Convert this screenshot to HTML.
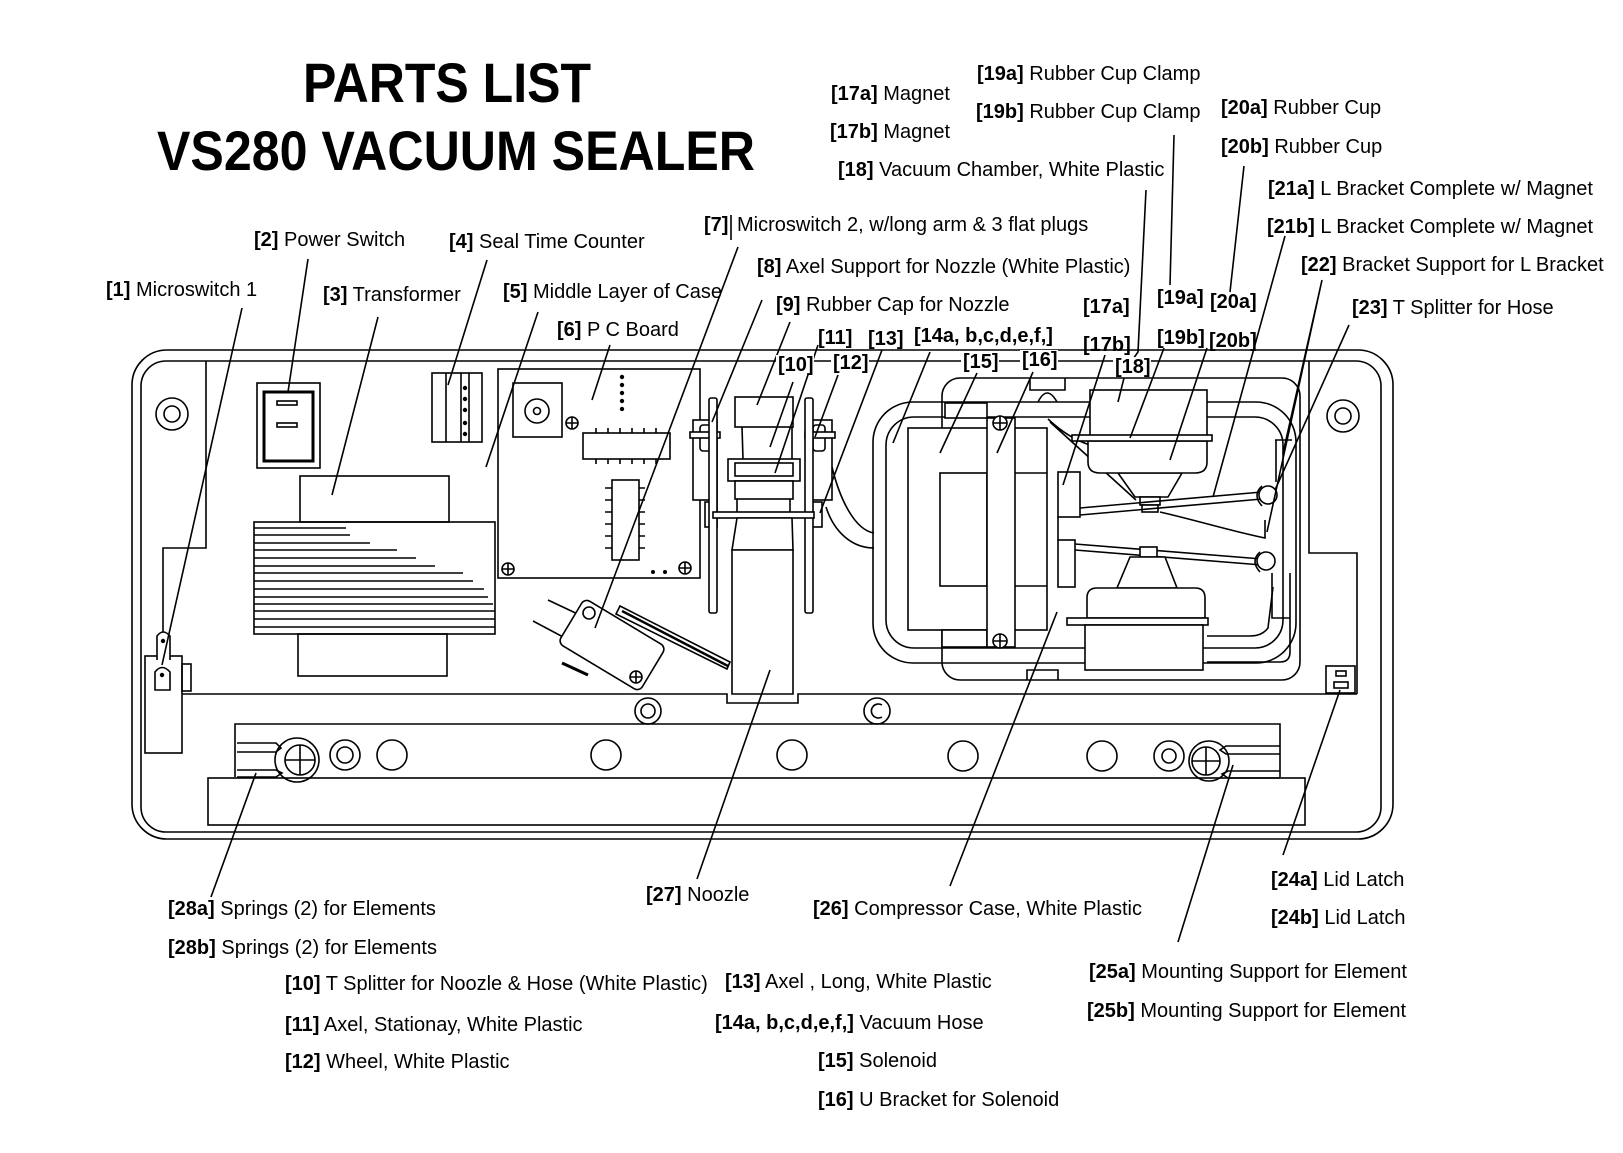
<!DOCTYPE html>
<html><head><meta charset="utf-8"><style>
html,body{margin:0;padding:0;background:#fff;}
svg{display:block;}
text{font-family:"Liberation Sans",Arial,sans-serif;font-size:20px;fill:#000;}
.b{font-weight:bold;}
.t{font-weight:bold;font-size:56px;}
.l{fill:none;stroke:#000;stroke-width:1.6;}
.w{fill:#fff;stroke:#000;stroke-width:1.6;}
.k{fill:#000;}
</style></head><body>
<svg width="1623" height="1153" viewBox="0 0 1623 1153" xmlns="http://www.w3.org/2000/svg">
<rect width="1623" height="1153" fill="#fff"/>

<!-- Titles -->
<text class="t" x="303" y="102" textLength="288" lengthAdjust="spacingAndGlyphs">PARTS LIST</text>
<text class="t" x="157" y="170" textLength="598" lengthAdjust="spacingAndGlyphs">VS280 VACUUM SEALER</text>

<!-- Case outlines -->
<rect class="l" x="132" y="350" width="1261" height="489" rx="35"/>
<rect class="l" x="141" y="361" width="1240" height="471" rx="25"/>

<!-- left panel -->
<path class="l" d="M206,361 V548 H163 V656"/>
<!-- Microswitch 1 -->
<rect class="w" x="145" y="656" width="37" height="97"/>
<rect class="l" x="182" y="664" width="9" height="27"/>
<path class="w" d="M157,660 V636 Q163,628 170,636 V660"/>
<circle class="k" cx="163" cy="641" r="2.2"/>
<path class="w" d="M155,690 V672 Q162,663 170,672 V690 Z"/>
<circle class="k" cx="162" cy="675" r="2.2"/>

<!-- lower strip line with nozzle notch -->
<path class="l" d="M182,694 H727 V703 H798 V694 H1357"/>
<path class="l" d="M1309,361 V553 H1357 V694"/>
<!-- bar frame -->
<path class="l" d="M235,777 V724 H1280 V777"/>
<rect class="l" x="208" y="778" width="1097" height="47"/>

<!-- springs -->
<path class="l" d="M237,743 H276 L281,748 L276,752 H237"/>
<path class="l" d="M237,770 H276 L282,773 L276,777 H237"/>
<path class="l" d="M1280,746 H1226 L1220,750 L1226,754 H1280"/>
<path class="l" d="M1280,771 H1228 L1222,774 L1228,778 H1280"/>

<!-- bar circles -->
<circle class="l" cx="297" cy="760" r="22"/>
<circle class="w" cx="300" cy="760" r="15"/>
<path class="l" d="M285,760 H315 M300,745 V775"/>
<circle class="l" cx="345" cy="755" r="15"/><circle class="l" cx="345" cy="755" r="8"/>
<circle class="l" cx="392" cy="755" r="15"/>
<circle class="l" cx="606" cy="755" r="15"/>
<circle class="l" cx="792" cy="755" r="15"/>
<circle class="l" cx="963" cy="756" r="15"/>
<circle class="l" cx="1102" cy="756" r="15"/>
<circle class="l" cx="1169" cy="756" r="15"/><circle class="l" cx="1169" cy="756" r="7"/>
<circle class="l" cx="1209" cy="761" r="20"/>
<circle class="w" cx="1206" cy="761" r="14"/>
<path class="l" d="M1192,761 H1220 M1206,747 V775"/>

<!-- strip circles -->
<circle class="l" cx="648" cy="711" r="13"/><circle class="l" cx="648" cy="711" r="7"/>
<circle class="l" cx="877" cy="711" r="13"/>
<path class="l" d="M882,705 A7,7 0 1 0 882,717"/>

<!-- screws in corners -->
<circle class="l" cx="172" cy="414" r="16"/><circle class="l" cx="172" cy="414" r="8"/>
<circle class="l" cx="1343" cy="416" r="16"/><circle class="l" cx="1343" cy="416" r="8"/>

<!-- Lid latch -->
<rect class="l" x="1326" y="666" width="29" height="27"/>
<rect class="l" x="1336" y="671" width="10" height="5"/>
<rect class="l" x="1334" y="682" width="14" height="6"/>

<!-- Power switch -->
<rect class="l" x="257" y="383" width="63" height="85"/>
<rect x="264" y="392" width="49" height="69" fill="none" stroke="#000" stroke-width="3"/>
<rect class="l" x="277" y="401" width="20" height="4"/>
<rect class="l" x="277" y="423" width="20" height="4"/>

<!-- Transformer -->
<rect class="l" x="300" y="476" width="149" height="46"/>
<rect class="l" x="254" y="522" width="241" height="112"/>
<rect class="l" x="298" y="634" width="149" height="42"/>
<path class="l" d="M254,528 H346 M254,535 H350 M254,543 H370 M254,550 H397 M254,558 H416 M254,566 H435 M254,573 H463 M254,581 H473 M254,589 H484 M254,597 H488 M254,604 H493 M254,611 H495 M254,619 H495 M254,627 H495"/>

<!-- Seal time counter -->
<rect class="l" x="432" y="373" width="50" height="69"/>
<path class="l" d="M446,373 V442 M461,373 V442 M469,373 V442"/>
<circle class="k" cx="465" cy="388" r="2.2"/><circle class="k" cx="465" cy="399" r="2.2"/><circle class="k" cx="465" cy="410" r="2.2"/><circle class="k" cx="465" cy="423" r="2.2"/><circle class="k" cx="465" cy="434" r="2.2"/>

<!-- PC board -->
<rect class="l" x="498" y="369" width="202" height="209"/>
<rect class="l" x="513" y="383" width="49" height="54"/>
<circle class="l" cx="537" cy="411" r="12"/><circle class="l" cx="537" cy="411" r="3.5"/>
<circle class="l" cx="572" cy="423" r="6"/><path class="l" d="M566,423 H578 M572,417 V429"/>
<circle class="l" cx="508" cy="569" r="6"/><path class="l" d="M502,569 H514 M508,563 V575"/>
<circle class="l" cx="685" cy="568" r="6"/><path class="l" d="M679,568 H691 M685,562 V574"/>
<circle class="k" cx="653" cy="572" r="2"/><circle class="k" cx="665" cy="572" r="2"/>
<circle class="k" cx="622" cy="377" r="2.2"/><circle class="k" cx="622" cy="385" r="2.2"/><circle class="k" cx="622" cy="393" r="2.2"/><circle class="k" cx="622" cy="401" r="2.2"/><circle class="k" cx="622" cy="409" r="2.2"/>
<rect class="l" x="583" y="433" width="87" height="26"/>
<path class="l" d="M596,428 V433 M608,428 V433 M620,428 V433 M632,428 V433 M644,428 V433 M656,428 V433 M596,459 V464 M608,459 V464 M620,459 V464 M632,459 V464 M644,459 V464 M656,459 V464"/>
<rect class="l" x="612" y="480" width="27" height="80"/>
<path class="l" d="M605,488 H612 M605,500 H612 M605,512 H612 M605,524 H612 M605,536 H612 M605,548 H612 M639,488 H645 M639,500 H645 M639,512 H645 M639,524 H645 M639,536 H645 M639,548 H645"/>

<!-- Microswitch 2 -->
<path class="l" d="M548,600 L584,617 M533,621 L565,638"/>
<rect class="w" x="564.5" y="619" width="95" height="52" rx="6" transform="rotate(31 612 645)"/>
<path d="M620,606 L730,662 L727,669 L616,614 Z" fill="#fff" stroke="#000" stroke-width="1.6"/>
<line x1="622" y1="611" x2="728" y2="666" stroke="#000" stroke-width="2.5"/>
<line x1="562" y1="663" x2="588" y2="675" stroke="#000" stroke-width="3"/>
<circle class="l" cx="589" cy="613" r="6"/>
<circle class="l" cx="636" cy="677" r="6"/><path class="l" d="M630,677 H642 M636,671 V683"/>

<!-- Nozzle assembly -->
<rect class="w" x="693" y="420" width="24" height="80"/>
<rect class="w" x="808" y="420" width="24" height="80"/>
<rect class="w" x="700" y="425" width="12" height="26" rx="3"/>
<rect class="w" x="813" y="425" width="12" height="26" rx="3"/>
<rect class="w" x="690" y="432" width="30" height="6"/>
<rect class="w" x="805" y="432" width="30" height="6"/>
<rect class="w" x="705" y="502" width="12" height="25"/>
<rect class="w" x="808" y="502" width="14" height="25"/>
<rect class="w" x="709" y="398" width="8" height="215" rx="2"/>
<rect class="w" x="805" y="398" width="8" height="215" rx="2"/>
<rect class="w" x="735" y="397" width="58" height="30"/>
<path class="l" d="M742,427 L743,459 M792,427 L792,459"/>
<rect class="w" x="728" y="459" width="72" height="22"/>
<rect class="w" x="735" y="463" width="58" height="13"/>
<rect class="w" x="735" y="481" width="58" height="18"/>
<path class="l" d="M737,499 V512 M790,499 V512"/>
<rect class="w" x="713" y="512" width="101" height="6"/>
<path class="w" d="M737,518 L732,550 H793 L792,518 Z"/>
<path class="w" d="M732,550 V694 H793 V550 Z"/>

<!-- Hoses from nozzle -->
<path class="l" d="M832,467 C840,500 855,530 874,533"/>
<path class="l" d="M826,507 C834,532 852,548 874,548"/>

<!-- Frames -->
<rect class="l" x="942" y="378" width="358" height="302" rx="18"/>
<rect class="l" x="873" y="402" width="423" height="261" rx="40"/>
<rect class="l" x="886" y="417" width="397" height="231" rx="28"/>
<path class="l" d="M1030,378 V390 H1065 V378 M1027,680 V670 H1058 V680"/>
<path class="l" d="M1038,402 Q1047,384 1057,402"/>

<!-- Solenoid & U bracket -->
<rect class="w" x="945" y="403" width="42" height="15"/>
<rect class="w" x="908" y="428" width="139" height="202"/>
<rect class="l" x="940" y="473" width="47" height="113"/>
<path class="l" d="M1015,473 H1047 M1015,586 H1047"/>
<rect class="w" x="942" y="630" width="45" height="17"/>
<rect class="w" x="987" y="418" width="28" height="229"/>
<circle class="w" cx="1000" cy="423" r="7"/><path class="l" d="M993,423 H1007 M1000,416 V430"/>
<circle class="w" cx="1000" cy="641" r="7"/><path class="l" d="M993,641 H1007 M1000,634 V648"/>

<!-- Hoses inside -->
<path class="l" d="M1048,419 Q1068,438 1090,445"/>
<path class="l" d="M1050,422 L1136,500"/>
<path class="l" d="M1058,517 V540"/>
<path class="l" d="M1160,512 C1195,520 1235,532 1265,538 V520"/>
<path class="l" d="M1273,587 L1268,628 Q1262,636 1250,636 H1207"/>
<path class="l" d="M1290,573 V652 Q1290,662 1280,662 H1207"/>
<path class="l" d="M1275,440 H1292 M1272,573 V618 H1290 M1276,440 V482"/>

<!-- Upper vacuum chamber -->
<rect class="w" x="1090" y="390" width="117" height="48"/>
<path class="w" d="M1118,473 L1135,497 H1168 L1182,473 Z"/>
<rect class="w" x="1140" y="497" width="20" height="8"/>
<rect class="w" x="1142" y="505" width="16" height="7"/>
<path class="w" d="M1088,441 V462 Q1088,473 1100,473 H1195 Q1207,473 1207,462 V441 Z"/>
<rect class="w" x="1072" y="435" width="140" height="6"/>

<!-- Magnets & L brackets -->
<rect class="w" x="1058" y="472" width="22" height="45"/>
<rect class="w" x="1058" y="540" width="17" height="47"/>
<path class="l" d="M1080,508 L1262,492 M1080,515 L1262,499"/>
<path class="l" d="M1075,544 L1262,559 M1075,550 L1262,565"/>
<circle class="w" cx="1268" cy="495" r="9"/>
<circle class="w" cx="1266" cy="561" r="9"/>
<path class="l" d="M1262,486 Q1252,495 1262,506 M1260,552 Q1250,561 1260,572"/>

<!-- Lower compressor -->
<rect class="w" x="1140" y="547" width="17" height="10"/>
<path class="w" d="M1130,557 L1117,588 H1177 L1165,557 Z"/>
<path class="w" d="M1087,618 V598 Q1087,588 1097,588 H1195 Q1205,588 1205,598 V618 Z"/>
<rect class="w" x="1067" y="618" width="141" height="7"/>
<rect class="w" x="1085" y="625" width="118" height="45"/>

<!-- Leader lines -->
<path class="l" d="
M242,308 L162,665
M308,259 L288,392
M378,317 L332,495
M487,260 L448,385
M538,312 L486,467
M610,345 L592,400
M731,215 V240
M738,247 L595,628
M762,300 L712,422
M790,322 L757,405
M793,382 L770,447
M818,345 L775,473
M838,375 L815,437
M882,350 L820,513
M930,352 L893,443
M977,373 L940,453
M1033,372 L997,453
M1105,355 L1063,485
M1124,378 L1118,402
M1164,348 L1130,438
M1207,348 L1170,460
M1174,135 L1170,285
M1244,166 L1230,292
M1146,190 L1138,352 L1131,362
M1285,236 L1213,497
M1322,280 L1283,453
M1322,280 L1267,532
M1349,325 L1275,490
M1283,855 L1340,690
M1178,942 L1233,765
M950,886 L1057,612
M697,879 L770,670
M211,897 L256,773
"/>

<!-- Labels: top -->
<text x="106" y="296"><tspan class="b">[1]</tspan> Microswitch 1</text>
<text x="254" y="246"><tspan class="b">[2]</tspan> Power Switch</text>
<text x="323" y="301"><tspan class="b">[3]</tspan> Transformer</text>
<text x="449" y="248"><tspan class="b">[4]</tspan> Seal Time Counter</text>
<text x="503" y="298"><tspan class="b">[5]</tspan> Middle Layer of Case</text>
<text x="557" y="336"><tspan class="b">[6]</tspan> P C Board</text>
<text x="704" y="231"><tspan class="b">[7]</tspan></text>
<text x="737" y="231">Microswitch 2, w/long arm &amp; 3 flat plugs</text>
<text x="757" y="273"><tspan class="b">[8]</tspan> Axel Support for Nozzle (White Plastic)</text>
<text x="776" y="311"><tspan class="b">[9]</tspan> Rubber Cap for Nozzle</text>
<text class="b" x="818" y="344">[11]</text>
<text class="b" x="868" y="345">[13]</text>
<text class="b" x="914" y="342">[14a, b,c,d,e,f,]</text>
<rect x="776" y="355" width="38" height="20" fill="#fff"/>
<text class="b" x="778" y="371">[10]</text>
<rect x="831" y="353" width="38" height="20" fill="#fff"/>
<text class="b" x="833" y="369">[12]</text>
<rect x="961" y="352" width="38" height="20" fill="#fff"/>
<text class="b" x="963" y="368">[15]</text>
<rect x="1020" y="350" width="38" height="20" fill="#fff"/>
<text class="b" x="1022" y="366">[16]</text>
<rect x="1113" y="357" width="38" height="20" fill="#fff"/>
<text class="b" x="1115" y="373">[18]</text>
<text class="b" x="1083" y="313">[17a]</text>
<text class="b" x="1083" y="351">[17b]</text>
<text class="b" x="1157" y="304">[19a]</text>
<text class="b" x="1210" y="308">[20a]</text>
<text class="b" x="1157" y="344">[19b]</text>
<text class="b" x="1209" y="347">[20b]</text>

<text x="831" y="100"><tspan class="b">[17a]</tspan> Magnet</text>
<text x="830" y="138"><tspan class="b">[17b]</tspan> Magnet</text>
<text x="838" y="176"><tspan class="b">[18]</tspan> Vacuum Chamber, White Plastic</text>
<text x="977" y="80"><tspan class="b">[19a]</tspan> Rubber Cup Clamp</text>
<text x="976" y="118"><tspan class="b">[19b]</tspan> Rubber Cup Clamp</text>
<text x="1221" y="114"><tspan class="b">[20a]</tspan> Rubber Cup</text>
<text x="1221" y="153"><tspan class="b">[20b]</tspan> Rubber Cup</text>
<text x="1268" y="195"><tspan class="b">[21a]</tspan> L Bracket Complete w/ Magnet</text>
<text x="1267" y="233"><tspan class="b">[21b]</tspan> L Bracket Complete w/ Magnet</text>
<text x="1301" y="271"><tspan class="b">[22]</tspan> Bracket Support for L Bracket</text>
<text x="1352" y="314"><tspan class="b">[23]</tspan> T Splitter for Hose</text>

<!-- Labels: bottom -->
<text x="168" y="915"><tspan class="b">[28a]</tspan> Springs (2) for Elements</text>
<text x="168" y="954"><tspan class="b">[28b]</tspan> Springs (2) for Elements</text>
<text x="646" y="901"><tspan class="b">[27]</tspan> Noozle</text>
<text x="813" y="915"><tspan class="b">[26]</tspan> Compressor Case, White Plastic</text>
<text x="285" y="990"><tspan class="b">[10]</tspan> T Splitter for Noozle &amp; Hose (White Plastic)</text>
<text x="285" y="1031"><tspan class="b">[11]</tspan> Axel, Stationay, White Plastic</text>
<text x="285" y="1068"><tspan class="b">[12]</tspan> Wheel, White Plastic</text>
<text x="725" y="988"><tspan class="b">[13]</tspan> Axel , Long, White Plastic</text>
<text x="715" y="1029"><tspan class="b">[14a, b,c,d,e,f,]</tspan> Vacuum Hose</text>
<text x="818" y="1067"><tspan class="b">[15]</tspan> Solenoid</text>
<text x="818" y="1106"><tspan class="b">[16]</tspan> U Bracket for Solenoid</text>
<text x="1271" y="886"><tspan class="b">[24a]</tspan> Lid Latch</text>
<text x="1271" y="924"><tspan class="b">[24b]</tspan> Lid Latch</text>
<text x="1089" y="978"><tspan class="b">[25a]</tspan> Mounting Support for Element</text>
<text x="1087" y="1017"><tspan class="b">[25b]</tspan> Mounting Support for Element</text>
</svg>
</body></html>
